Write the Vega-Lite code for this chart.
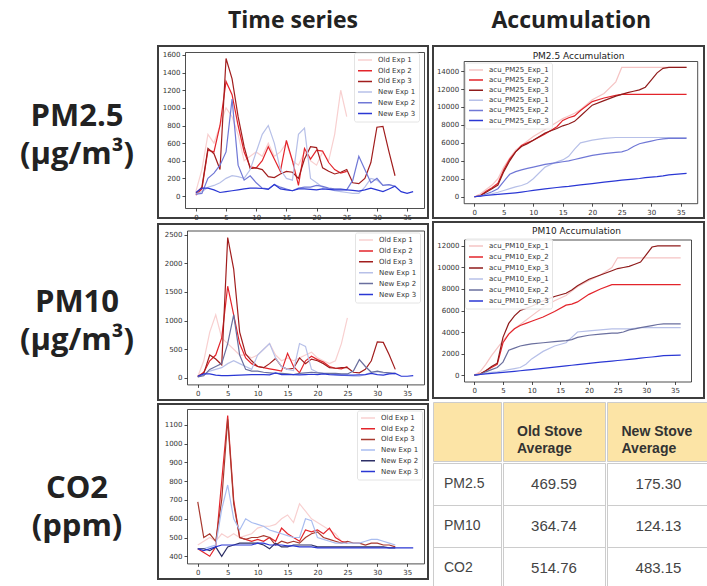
{
"$schema":"https://vega.github.io/schema/vega-lite/v6.json",
"background":"white",
"padding":{"left":0,"top":10,"right":0,"bottom":0},
"config":{
 "font":"DejaVu Sans",
 "view":{"stroke":null},
 "axis":{"grid":false,"labelFont":"DejaVu Sans","labelFontSize":7,"labelColor":"#333","tickColor":"#222","domainColor":"#222","tickSize":3,"tickWidth":0.8,"domainWidth":0.8,"labelPadding":2,"minExtent":0,"labelFlush":false,"labelOverlap":false,"format":"d"},
 "legend":{"title":null,"orient":"none","symbolType":"stroke","symbolSize":196,"symbolStrokeWidth":1.5,"labelFont":"DejaVu Sans","labelFontSize":7,"labelColor":"#333","clipHeight":9,"labelOffset":5,"padding":3,"fillColor":"rgba(255,255,255,0.85)","strokeColor":"#e4e4e4","cornerRadius":2}
},
"datasets":{
 "lab":[{"r":"a","txt":"PM2.5\n(µg/m³)"},{"r":"b","txt":"PM10\n(µg/m³)"},{"r":"c","txt":"CO2\n(ppm)"}],
 "tbl":[{"r":"PM2.5","o":469.59,"n":175.30},{"r":"PM10","o":364.74,"n":124.13},{"r":"CO2","o":514.76,"n":483.15}],
 "ts25":[
{"t":0,"o1":50,"o2":10,"o3":30,"n1":20,"n2":20,"n3":40},
{"t":1,"o1":300,"o2":80,"o3":100,"n1":50,"n2":30,"n3":90},
{"t":2,"o1":700,"o2":520,"o3":540,"n1":100,"n2":200,"n3":90},
{"t":3,"o1":600,"o2":500,"o3":480,"n1":120,"n2":260,"n3":70},
{"t":4,"o1":800,"o2":800,"o3":300,"n1":150,"n2":350,"n3":40},
{"t":5,"o1":1000,"o2":1300,"o3":1560,"n1":200,"n2":500,"n3":50},
{"t":6,"o1":900,"o2":1150,"o3":1330,"n1":230,"n2":1100,"n3":60},
{"t":7,"o1":700,"o2":800,"o3":900,"n1":220,"n2":350,"n3":70},
{"t":8,"o1":400,"o2":500,"o3":560,"n1":200,"n2":180,"n3":80},
{"t":9,"o1":450,"o2":330,"o3":310,"n1":300,"n2":230,"n3":90},
{"t":10,"o1":500,"o2":320,"o3":320,"n1":500,"n2":150,"n3":90},
{"t":11,"o1":450,"o2":400,"o3":300,"n1":700,"n2":90,"n3":85},
{"t":12,"o1":600,"o2":560,"o3":220,"n1":800,"n2":80,"n3":75},
{"t":13,"o1":450,"o2":420,"o3":210,"n1":600,"n2":130,"n3":130},
{"t":14,"o1":500,"o2":280,"o3":250,"n1":300,"n2":100,"n3":80},
{"t":15,"o1":600,"o2":630,"o3":280,"n1":200,"n2":80,"n3":70},
{"t":16,"o1":400,"o2":400,"o3":270,"n1":180,"n2":60,"n3":60},
{"t":17,"o1":350,"o2":120,"o3":200,"n1":700,"n2":90,"n3":80},
{"t":18,"o1":500,"o2":540,"o3":420,"n1":770,"n2":100,"n3":80},
{"t":19,"o1":400,"o2":420,"o3":560,"n1":200,"n2":100,"n3":75},
{"t":20,"o1":350,"o2":520,"o3":550,"n1":150,"n2":120,"n3":70},
{"t":21,"o1":500,"o2":510,"o3":320,"n1":100,"n2":110,"n3":80},
{"t":22,"o1":400,"o2":380,"o3":280,"n1":80,"n2":90,"n3":75},
{"t":23,"o1":700,"o2":300,"o3":250,"n1":60,"n2":80,"n3":70},
{"t":24,"o1":1200,"o2":260,"o3":270,"n1":50,"n2":80,"n3":70},
{"t":25,"o1":900,"o2":280,"o3":300,"n1":40,"n2":70,"n3":70},
{"t":26,"o1":null,"o2":null,"o3":150,"n1":30,"n2":180,"n3":65},
{"t":27,"o1":null,"o2":null,"o3":140,"n1":30,"n2":450,"n3":55},
{"t":28,"o1":null,"o2":null,"o3":200,"n1":100,"n2":300,"n3":70},
{"t":29,"o1":null,"o2":null,"o3":380,"n1":200,"n2":150,"n3":90},
{"t":30,"o1":null,"o2":null,"o3":780,"n1":180,"n2":200,"n3":70},
{"t":31,"o1":null,"o2":null,"o3":790,"n1":120,"n2":120,"n3":50},
{"t":32,"o1":null,"o2":null,"o3":500,"n1":130,"n2":130,"n3":80},
{"t":33,"o1":null,"o2":null,"o3":230,"n1":110,"n2":110,"n3":110},
{"t":34,"o1":null,"o2":null,"o3":null,"n1":null,"n2":null,"n3":50},
{"t":35,"o1":null,"o2":null,"o3":null,"n1":null,"n2":null,"n3":30},
{"t":36,"o1":null,"o2":null,"o3":null,"n1":null,"n2":null,"n3":50}
 ],
 "ts10":[
{"t":0,"o1":20,"o2":20,"o3":30,"n1":20,"n2":20,"n3":30},
{"t":1,"o1":300,"o2":100,"o3":80,"n1":60,"n2":40,"n3":70},
{"t":2,"o1":800,"o2":300,"o3":400,"n1":120,"n2":150,"n3":70},
{"t":3,"o1":1100,"o2":400,"o3":330,"n1":150,"n2":200,"n3":50},
{"t":4,"o1":700,"o2":700,"o3":230,"n1":180,"n2":250,"n3":40},
{"t":5,"o1":600,"o2":1600,"o3":2450,"n1":250,"n2":600,"n3":40},
{"t":6,"o1":500,"o2":1100,"o3":1900,"n1":300,"n2":1100,"n3":45},
{"t":7,"o1":400,"o2":600,"o3":800,"n1":250,"n2":400,"n3":50},
{"t":8,"o1":400,"o2":350,"o3":420,"n1":200,"n2":150,"n3":55},
{"t":9,"o1":350,"o2":250,"o3":300,"n1":150,"n2":120,"n3":60},
{"t":10,"o1":400,"o2":200,"o3":200,"n1":400,"n2":120,"n3":60},
{"t":11,"o1":500,"o2":180,"o3":180,"n1":500,"n2":100,"n3":60},
{"t":12,"o1":600,"o2":160,"o3":250,"n1":600,"n2":90,"n3":55},
{"t":13,"o1":400,"o2":140,"o3":340,"n1":350,"n2":80,"n3":90},
{"t":14,"o1":300,"o2":120,"o3":200,"n1":200,"n2":80,"n3":60},
{"t":15,"o1":350,"o2":430,"o3":150,"n1":150,"n2":70,"n3":60},
{"t":16,"o1":300,"o2":200,"o3":170,"n1":130,"n2":60,"n3":60},
{"t":17,"o1":350,"o2":90,"o3":350,"n1":600,"n2":80,"n3":55},
{"t":18,"o1":400,"o2":300,"o3":250,"n1":550,"n2":90,"n3":60},
{"t":19,"o1":450,"o2":380,"o3":330,"n1":150,"n2":100,"n3":65},
{"t":20,"o1":350,"o2":320,"o3":300,"n1":100,"n2":90,"n3":60},
{"t":21,"o1":300,"o2":280,"o3":250,"n1":80,"n2":80,"n3":70},
{"t":22,"o1":250,"o2":200,"o3":180,"n1":70,"n2":80,"n3":60},
{"t":23,"o1":300,"o2":170,"o3":170,"n1":60,"n2":80,"n3":55},
{"t":24,"o1":600,"o2":160,"o3":180,"n1":50,"n2":70,"n3":50},
{"t":25,"o1":1050,"o2":200,"o3":180,"n1":40,"n2":70,"n3":50},
{"t":26,"o1":null,"o2":null,"o3":100,"n1":30,"n2":120,"n3":50},
{"t":27,"o1":null,"o2":null,"o3":90,"n1":30,"n2":320,"n3":55},
{"t":28,"o1":null,"o2":null,"o3":150,"n1":60,"n2":200,"n3":60},
{"t":29,"o1":null,"o2":null,"o3":300,"n1":100,"n2":100,"n3":80},
{"t":30,"o1":null,"o2":null,"o3":630,"n1":110,"n2":120,"n3":60},
{"t":31,"o1":null,"o2":null,"o3":620,"n1":90,"n2":100,"n3":50},
{"t":32,"o1":null,"o2":null,"o3":400,"n1":80,"n2":90,"n3":70},
{"t":33,"o1":null,"o2":null,"o3":150,"n1":70,"n2":80,"n3":80},
{"t":34,"o1":null,"o2":null,"o3":null,"n1":null,"n2":null,"n3":30},
{"t":35,"o1":null,"o2":null,"o3":null,"n1":null,"n2":null,"n3":30},
{"t":36,"o1":null,"o2":null,"o3":null,"n1":null,"n2":null,"n3":40}
 ],
 "co2":[
{"t":0,"o1":460,"o2":440,"o3":690,"n1":440,"n2":440,"n3":440},
{"t":1,"o1":480,"o2":420,"o3":500,"n1":440,"n2":440,"n3":430},
{"t":2,"o1":500,"o2":400,"o3":520,"n1":450,"n2":430,"n3":440},
{"t":3,"o1":480,"o2":450,"o3":480,"n1":460,"n2":450,"n3":450},
{"t":4,"o1":520,"o2":800,"o3":700,"n1":650,"n2":400,"n3":460},
{"t":5,"o1":500,"o2":1150,"o3":1130,"n1":780,"n2":450,"n3":460},
{"t":6,"o1":520,"o2":700,"o3":680,"n1":600,"n2":460,"n3":460},
{"t":7,"o1":500,"o2":500,"o3":500,"n1":540,"n2":470,"n3":460},
{"t":8,"o1":510,"o2":490,"o3":490,"n1":600,"n2":470,"n3":460},
{"t":9,"o1":520,"o2":480,"o3":500,"n1":580,"n2":470,"n3":460},
{"t":10,"o1":550,"o2":490,"o3":500,"n1":570,"n2":470,"n3":470},
{"t":11,"o1":560,"o2":480,"o3":510,"n1":560,"n2":460,"n3":470},
{"t":12,"o1":560,"o2":500,"o3":500,"n1":540,"n2":440,"n3":460},
{"t":13,"o1":570,"o2":480,"o3":460,"n1":530,"n2":470,"n3":460},
{"t":14,"o1":600,"o2":550,"o3":480,"n1":520,"n2":450,"n3":460},
{"t":15,"o1":620,"o2":520,"o3":470,"n1":510,"n2":450,"n3":455},
{"t":16,"o1":580,"o2":500,"o3":480,"n1":500,"n2":460,"n3":455},
{"t":17,"o1":680,"o2":480,"o3":470,"n1":500,"n2":460,"n3":450},
{"t":18,"o1":640,"o2":540,"o3":500,"n1":600,"n2":460,"n3":450},
{"t":19,"o1":600,"o2":530,"o3":520,"n1":590,"n2":460,"n3":450},
{"t":20,"o1":580,"o2":540,"o3":530,"n1":500,"n2":450,"n3":445},
{"t":21,"o1":560,"o2":520,"o3":500,"n1":490,"n2":450,"n3":445},
{"t":22,"o1":540,"o2":550,"o3":490,"n1":480,"n2":450,"n3":445},
{"t":23,"o1":520,"o2":500,"o3":480,"n1":470,"n2":450,"n3":445},
{"t":24,"o1":480,"o2":480,"o3":470,"n1":470,"n2":450,"n3":445},
{"t":25,"o1":470,"o2":470,"o3":480,"n1":470,"n2":450,"n3":445},
{"t":26,"o1":null,"o2":null,"o3":470,"n1":470,"n2":450,"n3":445},
{"t":27,"o1":null,"o2":null,"o3":470,"n1":470,"n2":450,"n3":445},
{"t":28,"o1":null,"o2":null,"o3":460,"n1":480,"n2":450,"n3":445},
{"t":29,"o1":null,"o2":null,"o3":470,"n1":490,"n2":450,"n3":445},
{"t":30,"o1":null,"o2":null,"o3":470,"n1":490,"n2":450,"n3":445},
{"t":31,"o1":null,"o2":null,"o3":460,"n1":480,"n2":450,"n3":445},
{"t":32,"o1":null,"o2":null,"o3":460,"n1":470,"n2":445,"n3":445},
{"t":33,"o1":null,"o2":null,"o3":450,"n1":460,"n2":445,"n3":445},
{"t":34,"o1":null,"o2":null,"o3":null,"n1":null,"n2":null,"n3":445},
{"t":35,"o1":null,"o2":null,"o3":null,"n1":null,"n2":null,"n3":445},
{"t":36,"o1":null,"o2":null,"o3":null,"n1":null,"n2":null,"n3":445}
 ],
 "acc25":[
{"t":0,"o1":0,"o2":0,"o3":0,"n1":0,"n2":0,"n3":0},
{"t":1,"o1":300,"o2":100,"o3":100,"n1":80,"n2":60,"n3":70},
{"t":2,"o1":800,"o2":600,"o3":500,"n1":200,"n2":300,"n3":140},
{"t":3,"o1":1300,"o2":1000,"o3":900,"n1":320,"n2":550,"n3":210},
{"t":4,"o1":2000,"o2":1500,"o3":1300,"n1":500,"n2":900,"n3":260},
{"t":5,"o1":3300,"o2":3000,"o3":2800,"n1":700,"n2":1700,"n3":310},
{"t":6,"o1":4300,"o2":4200,"o3":4000,"n1":900,"n2":2500,"n3":370},
{"t":7,"o1":5200,"o2":5000,"o3":5000,"n1":1100,"n2":2800,"n3":440},
{"t":8,"o1":5700,"o2":5700,"o3":5600,"n1":1250,"n2":3000,"n3":520},
{"t":9,"o1":6200,"o2":6000,"o3":5900,"n1":1500,"n2":3150,"n3":610},
{"t":10,"o1":6700,"o2":6300,"o3":6300,"n1":2000,"n2":3300,"n3":700},
{"t":12,"o1":7500,"o2":7000,"o3":7100,"n1":3300,"n2":3600,"n3":870},
{"t":14,"o1":8300,"o2":7800,"o3":7600,"n1":3900,"n2":3800,"n3":1030},
{"t":15,"o1":8700,"o2":8500,"o3":7900,"n1":4100,"n2":3900,"n3":1100},
{"t":16,"o1":9000,"o2":8800,"o3":8100,"n1":4500,"n2":4000,"n3":1160},
{"t":17,"o1":9300,"o2":9000,"o3":8400,"n1":5300,"n2":4150,"n3":1240},
{"t":18,"o1":9700,"o2":9600,"o3":9000,"n1":6000,"n2":4300,"n3":1320},
{"t":20,"o1":10800,"o2":10600,"o3":10200,"n1":6300,"n2":4600,"n3":1470},
{"t":22,"o1":11500,"o2":11000,"o3":10700,"n1":6500,"n2":4800,"n3":1620},
{"t":24,"o1":12800,"o2":11300,"o3":11200,"n1":6600,"n2":4950,"n3":1770},
{"t":25,"o1":14400,"o2":11400,"o3":11400,"n1":6600,"n2":5000,"n3":1840},
{"t":26,"o1":14400,"o2":11400,"o3":11600,"n1":6600,"n2":5200,"n3":1900},
{"t":27,"o1":14400,"o2":11400,"o3":11750,"n1":6600,"n2":5600,"n3":1960},
{"t":28,"o1":14400,"o2":11400,"o3":11900,"n1":6600,"n2":5900,"n3":2030},
{"t":29,"o1":14400,"o2":11400,"o3":12200,"n1":6600,"n2":6050,"n3":2120},
{"t":30,"o1":14400,"o2":11400,"o3":13000,"n1":6600,"n2":6200,"n3":2190},
{"t":31,"o1":14400,"o2":11400,"o3":13800,"n1":6600,"n2":6350,"n3":2240},
{"t":32,"o1":14400,"o2":11400,"o3":14300,"n1":6600,"n2":6450,"n3":2320},
{"t":33,"o1":14400,"o2":11400,"o3":14400,"n1":6600,"n2":6500,"n3":2430},
{"t":34,"o1":14400,"o2":11400,"o3":14400,"n1":6600,"n2":6500,"n3":2480},
{"t":36,"o1":14400,"o2":11400,"o3":14400,"n1":6600,"n2":6500,"n3":2600}
 ],
 "acc10":[
{"t":0,"o1":0,"o2":0,"o3":0,"n1":0,"n2":0,"n3":0},
{"t":1,"o1":300,"o2":100,"o3":100,"n1":60,"n2":50,"n3":50},
{"t":2,"o1":1000,"o2":400,"o3":400,"n1":150,"n2":300,"n3":100},
{"t":3,"o1":1800,"o2":700,"o3":800,"n1":250,"n2":500,"n3":150},
{"t":4,"o1":2500,"o2":1000,"o3":1100,"n1":300,"n2":700,"n3":200},
{"t":5,"o1":3200,"o2":3000,"o3":3500,"n1":400,"n2":1200,"n3":250},
{"t":6,"o1":3800,"o2":3800,"o3":4800,"n1":500,"n2":2300,"n3":300},
{"t":7,"o1":4300,"o2":4300,"o3":5500,"n1":600,"n2":2500,"n3":350},
{"t":8,"o1":4700,"o2":4600,"o3":6000,"n1":700,"n2":2700,"n3":400},
{"t":9,"o1":5100,"o2":4800,"o3":6200,"n1":1000,"n2":2800,"n3":450},
{"t":10,"o1":5500,"o2":5000,"o3":6400,"n1":1500,"n2":2900,"n3":500},
{"t":12,"o1":6300,"o2":5400,"o3":6900,"n1":2200,"n2":3000,"n3":620},
{"t":14,"o1":6900,"o2":5900,"o3":7300,"n1":2700,"n2":3100,"n3":740},
{"t":16,"o1":7400,"o2":6500,"o3":7600,"n1":3000,"n2":3200,"n3":860},
{"t":17,"o1":7800,"o2":6600,"o3":7900,"n1":3500,"n2":3300,"n3":910},
{"t":18,"o1":8200,"o2":6800,"o3":8300,"n1":4000,"n2":3500,"n3":970},
{"t":20,"o1":8800,"o2":7500,"o3":8900,"n1":4100,"n2":3700,"n3":1080},
{"t":22,"o1":9300,"o2":8000,"o3":9300,"n1":4200,"n2":3800,"n3":1200},
{"t":24,"o1":10000,"o2":8400,"o3":9700,"n1":4300,"n2":3900,"n3":1300},
{"t":25,"o1":10900,"o2":8400,"o3":9900,"n1":4300,"n2":3900,"n3":1350},
{"t":26,"o1":10900,"o2":8400,"o3":10000,"n1":4300,"n2":4000,"n3":1400},
{"t":27,"o1":10900,"o2":8400,"o3":10100,"n1":4300,"n2":4200,"n3":1460},
{"t":28,"o1":10900,"o2":8400,"o3":10300,"n1":4350,"n2":4300,"n3":1510},
{"t":29,"o1":10900,"o2":8400,"o3":10500,"n1":4400,"n2":4400,"n3":1570},
{"t":30,"o1":10900,"o2":8400,"o3":11200,"n1":4400,"n2":4500,"n3":1630},
{"t":31,"o1":10900,"o2":8400,"o3":11900,"n1":4400,"n2":4600,"n3":1680},
{"t":32,"o1":10900,"o2":8400,"o3":12000,"n1":4400,"n2":4700,"n3":1740},
{"t":33,"o1":10900,"o2":8400,"o3":12000,"n1":4400,"n2":4750,"n3":1800},
{"t":36,"o1":10900,"o2":8400,"o3":12000,"n1":4400,"n2":4750,"n3":1850}
 ]
},
"spacing":3,
"resolve":{"scale":{"x":"independent","y":"independent","color":"independent"},"legend":{"color":"independent"}},
"hconcat":[
 {
  "width":154,"height":530,
  "data":{"name":"lab"},
  "mark":{"type":"text","lineBreak":"\n","font":"Open Sans","fontSize":31,"fontWeight":"bold","color":"#222","lineHeight":38,"align":"center","baseline":"middle"},
  "encoding":{
   "y":{"field":"r","type":"nominal","sort":null,"scale":{"type":"band","domain":["a","b","c"],"range":[-22.5,536],"paddingInner":0,"paddingOuter":0},"axis":null},
   "text":{"field":"txt"}
  }
 },
 {
  "title":{"text":"Time series","anchor":"middle","font":"Open Sans","fontSize":23,"fontWeight":"bold","color":"#222","offset":12},
  "spacing":2,
  "resolve":{"scale":{"x":"independent","y":"independent","color":"independent"},"legend":{"color":"independent"}},
  "vconcat":[
   {
    "width":270,"height":172,
    "view":{"stroke":"#3d3d3d","strokeWidth":2},
    "data":{"name":"ts25"},
    "transform":[{"fold":["o1","o2","o3","n1","n2","n3"],"as":["s","v"]}],
    "layer":[
     {"mark":{"type":"line","strokeWidth":1.2,"invalid":"filter"},
      "encoding":{
       "x":{"field":"t","type":"quantitative","scale":{"domain":[-1.8,37.8],"range":[27,266],"nice":false,"zero":false},"axis":{"title":null,"orient":"bottom","offset":-10,"values":[0,5,10,15,20,25,30,35]}},
       "y":{"field":"v","type":"quantitative","scale":{"domain":[-136,1634],"range":[162,6],"nice":false,"zero":false},"axis":{"title":null,"orient":"left","offset":-27,"values":[0,200,400,600,800,1000,1200,1400,1600]}},
       "color":{"field":"s","type":"nominal","scale":{"domain":["o1","o2","o3","n1","n2","n3"],"range":["#f8d0d0","#e3242b","#a11d1d","#b7c0e8","#7078d6","#2a37d4"]},
        "legend":{"legendX":196,"legendY":6.5,"rowPadding":1.7,"labelExpr":"(slice(datum.label,0,1)=='o' ? 'Old' : 'New') + ' Exp ' + slice(datum.label,1)"}}
      }},
     {"mark":{"type":"line","opacity":0,"invalid":"filter"},
      "encoding":{
       "x":{"field":"t","type":"quantitative","axis":{"title":null,"orient":"top","offset":-6,"labels":false,"ticks":false}},
       "y":{"field":"v","type":"quantitative","axis":{"title":null,"orient":"right","offset":-4,"labels":false,"ticks":false}},
       "detail":{"field":"s"}
      }}
    ],
    "resolve":{"axis":{"x":"independent","y":"independent"}}
   },
   {
    "width":270,"height":176,
    "view":{"stroke":"#3d3d3d","strokeWidth":2},
    "data":{"name":"ts10"},
    "transform":[{"fold":["o1","o2","o3","n1","n2","n3"],"as":["s","v"]}],
    "layer":[
     {"mark":{"type":"line","strokeWidth":1.2,"invalid":"filter"},
      "encoding":{
       "x":{"field":"t","type":"quantitative","scale":{"domain":[-1.8,37.8],"range":[29,266],"nice":false,"zero":false},"axis":{"title":null,"orient":"bottom","offset":-15.6,"values":[0,5,10,15,20,25,30,35]}},
       "y":{"field":"v","type":"quantitative","scale":{"domain":[-112,2572],"range":[160.4,6.5],"nice":false,"zero":false},"axis":{"title":null,"orient":"left","offset":-29,"values":[0,500,1000,1500,2000,2500]}},
       "color":{"field":"s","type":"nominal","scale":{"domain":["o1","o2","o3","n1","n2","n3"],"range":["#f8d0d0","#e3242b","#a11d1d","#b7c0e8","#6a6f9e","#2a37d4"]},
        "legend":{"legendX":197,"legendY":8.5,"rowPadding":1.9,"labelExpr":"(slice(datum.label,0,1)=='o' ? 'Old' : 'New') + ' Exp ' + slice(datum.label,1)"}}
      }},
     {"mark":{"type":"line","opacity":0,"invalid":"filter"},
      "encoding":{
       "x":{"field":"t","type":"quantitative","axis":{"title":null,"orient":"top","offset":-6.5,"labels":false,"ticks":false}},
       "y":{"field":"v","type":"quantitative","axis":{"title":null,"orient":"right","offset":-4,"labels":false,"ticks":false}},
       "detail":{"field":"s"}
      }}
    ],
    "resolve":{"axis":{"x":"independent","y":"independent"}}
   },
   {
    "width":270,"height":175,
    "view":{"stroke":"#3d3d3d","strokeWidth":2},
    "data":{"name":"co2"},
    "transform":[{"fold":["o1","o2","o3","n1","n2","n3"],"as":["s","v"]}],
    "layer":[
     {"mark":{"type":"line","strokeWidth":1.2,"invalid":"filter"},
      "encoding":{
       "x":{"field":"t","type":"quantitative","scale":{"domain":[-1.8,37.8],"range":[29,266],"nice":false,"zero":false},"axis":{"title":null,"orient":"bottom","offset":-15.6,"values":[0,5,10,15,20,25,30,35]}},
       "y":{"field":"v","type":"quantitative","scale":{"domain":[362,1185],"range":[159.4,5],"nice":false,"zero":false},"axis":{"title":null,"orient":"left","offset":-29,"values":[400,500,600,700,800,900,1000,1100]}},
       "color":{"field":"s","type":"nominal","scale":{"domain":["o1","o2","o3","n1","n2","n3"],"range":["#f8d0d0","#e3242b","#a8392f","#a9bdf0","#2d2f66","#2a37d4"]},
        "legend":{"legendX":199,"legendY":6.5,"rowPadding":1.7,"labelExpr":"(slice(datum.label,0,1)=='o' ? 'Old' : 'New') + ' Exp ' + slice(datum.label,1)"}}
      }},
     {"mark":{"type":"line","opacity":0,"invalid":"filter"},
      "encoding":{
       "x":{"field":"t","type":"quantitative","axis":{"title":null,"orient":"top","offset":-5,"labels":false,"ticks":false}},
       "y":{"field":"v","type":"quantitative","axis":{"title":null,"orient":"right","offset":-4,"labels":false,"ticks":false}},
       "detail":{"field":"s"}
      }}
    ],
    "resolve":{"axis":{"x":"independent","y":"independent"}}
   }
  ]
 },
 {
  "title":{"text":"Accumulation","anchor":"middle","font":"Open Sans","fontSize":23,"fontWeight":"bold","color":"#222","offset":12},
  "spacing":2,
  "resolve":{"scale":{"x":"independent","y":"independent","color":"independent"},"legend":{"color":"independent"}},
  "vconcat":[
   {
    "width":271,"height":172,
    "view":{"stroke":"#3d3d3d","strokeWidth":2},
    "title":{"text":"PM2.5 Accumulation","font":"DejaVu Sans","fontSize":9,"fontWeight":"normal","color":"#222","anchor":"middle","frame":"group","baseline":"top","offset":-5,"dx":10,"dy":10},
    "data":{"name":"acc25"},
    "transform":[{"fold":["o1","o2","o3","n1","n2","n3"],"as":["s","v"]}],
    "layer":[
     {"mark":{"type":"line","strokeWidth":1.2,"invalid":"filter"},
      "encoding":{
       "x":{"field":"t","type":"quantitative","scale":{"domain":[-1.8,37.8],"range":[30.7,264.2],"nice":false,"zero":false},"axis":{"title":null,"orient":"bottom","offset":-14.8,"values":[0,5,10,15,20,25,30,35]}},
       "y":{"field":"v","type":"quantitative","scale":{"domain":[-720,15120],"range":[157.2,15],"nice":false,"zero":false},"axis":{"title":null,"orient":"left","offset":-30.7,"values":[0,2000,4000,6000,8000,10000,12000,14000]}},
       "color":{"field":"s","type":"nominal","scale":{"domain":["o1","o2","o3","n1","n2","n3"],"range":["#f5c4c4","#e3242b","#8f1b1b","#b7c0e8","#7078d6","#2a37d4"]},
        "legend":{"legendX":32,"legendY":16.5,"rowPadding":1.1,"labelExpr":"'acu_PM25_Exp_' + slice(datum.label,1)"}}
      }},
     {"mark":{"type":"line","opacity":0,"invalid":"filter"},
      "encoding":{
       "x":{"field":"t","type":"quantitative","axis":{"title":null,"orient":"top","offset":-15,"labels":false,"ticks":false}},
       "y":{"field":"v","type":"quantitative","axis":{"title":null,"orient":"right","offset":-6.8,"labels":false,"ticks":false}},
       "detail":{"field":"s"}
      }}
    ],
    "resolve":{"axis":{"x":"independent","y":"independent"}}
   },
   {
    "width":271,"height":176,
    "view":{"stroke":"#3d3d3d","strokeWidth":2},
    "title":{"text":"PM10 Accumulation","font":"DejaVu Sans","fontSize":9,"fontWeight":"normal","color":"#222","anchor":"middle","frame":"group","baseline":"top","offset":-6,"dx":8,"dy":8},
    "data":{"name":"acc10"},
    "transform":[{"fold":["o1","o2","o3","n1","n2","n3"],"as":["s","v"]}],
    "layer":[
     {"mark":{"type":"line","strokeWidth":1.2,"invalid":"filter"},
      "encoding":{
       "x":{"field":"t","type":"quantitative","scale":{"domain":[-1.8,37.8],"range":[31,258],"nice":false,"zero":false},"axis":{"title":null,"orient":"bottom","offset":-16.5,"values":[0,5,10,15,20,25,30,35]}},
       "y":{"field":"v","type":"quantitative","scale":{"domain":[-600,12600],"range":[159.5,17.5],"nice":false,"zero":false},"axis":{"title":null,"orient":"left","offset":-31,"values":[0,2000,4000,6000,8000,10000,12000]}},
       "color":{"field":"s","type":"nominal","scale":{"domain":["o1","o2","o3","n1","n2","n3"],"range":["#f5c4c4","#e3242b","#8f1b1b","#b7c0e8","#6a6f9e","#2a37d4"]},
        "legend":{"legendX":32,"legendY":16.5,"rowPadding":2,"labelExpr":"'acu_PM10_Exp_' + slice(datum.label,1)"}}
      }},
     {"mark":{"type":"line","opacity":0,"invalid":"filter"},
      "encoding":{
       "x":{"field":"t","type":"quantitative","axis":{"title":null,"orient":"top","offset":-17.5,"labels":false,"ticks":false}},
       "y":{"field":"v","type":"quantitative","axis":{"title":null,"orient":"right","offset":-13,"labels":false,"ticks":false}},
       "detail":{"field":"s"}
      }}
    ],
    "resolve":{"axis":{"x":"independent","y":"independent"}}
   },
   {
    "spacing":0,
    "resolve":{"scale":{"x":"independent","y":"independent"}},
    "hconcat":[
     {"spacing":0,"vconcat":[
       {"width":68,"height":59,"view":{"fill":"#FCE4A6","stroke":"#cccccc","strokeWidth":1},
        "data":{"values":[{"h":""}]},
        "mark":{"type":"text"},
        "encoding":{"text":{"field":"h"}}},
       {"width":68,"height":126,"view":{"stroke":"#cccccc","strokeWidth":1},
        "data":{"name":"tbl"},
        "mark":{"type":"text","font":"Liberation Sans","fontSize":14,"color":"#444","align":"left","dx":-23,"baseline":"middle"},
        "encoding":{
         "y":{"field":"r","type":"nominal","sort":null,"scale":{"type":"band","domain":["PM2.5","PM10","CO2"],"paddingInner":0,"paddingOuter":0},"axis":{"title":null,"labels":false,"ticks":false,"domain":false,"grid":true,"gridColor":"#cccccc","gridWidth":1,"bandPosition":0}},
         "text":{"field":"r"}}}
     ]},
     {"spacing":0,"vconcat":[
       {"width":102,"height":59,"view":{"fill":"#FCE4A6","stroke":"#cccccc","strokeWidth":1},
        "data":{"values":[{"h":"Old Stove\nAverage"}]},
        "mark":{"type":"text","lineBreak":"\n","font":"Liberation Sans","fontSize":14,"fontWeight":"bold","color":"#333","align":"left","dx":-37,"baseline":"middle","lineHeight":17},
        "encoding":{"text":{"field":"h"}}},
       {"width":102,"height":126,"view":{"stroke":"#cccccc","strokeWidth":1},
        "data":{"name":"tbl"},
        "mark":{"type":"text","font":"Liberation Sans","fontSize":15,"color":"#444","align":"center","baseline":"middle"},
        "encoding":{
         "y":{"field":"r","type":"nominal","sort":null,"scale":{"type":"band","domain":["PM2.5","PM10","CO2"],"paddingInner":0,"paddingOuter":0},"axis":{"title":null,"labels":false,"ticks":false,"domain":false,"grid":true,"gridColor":"#cccccc","gridWidth":1,"bandPosition":0}},
         "text":{"field":"o","type":"quantitative","format":".2f"}}}
     ]},
     {"spacing":0,"vconcat":[
       {"width":103,"height":59,"view":{"fill":"#FCE4A6","stroke":"#cccccc","strokeWidth":1},
        "data":{"values":[{"h":"New Stove\nAverage"}]},
        "mark":{"type":"text","lineBreak":"\n","font":"Liberation Sans","fontSize":14,"fontWeight":"bold","color":"#333","align":"left","dx":-37,"baseline":"middle","lineHeight":17},
        "encoding":{"text":{"field":"h"}}},
       {"width":103,"height":126,"view":{"stroke":"#cccccc","strokeWidth":1},
        "data":{"name":"tbl"},
        "mark":{"type":"text","font":"Liberation Sans","fontSize":15,"color":"#444","align":"center","baseline":"middle"},
        "encoding":{
         "y":{"field":"r","type":"nominal","sort":null,"scale":{"type":"band","domain":["PM2.5","PM10","CO2"],"paddingInner":0,"paddingOuter":0},"axis":{"title":null,"labels":false,"ticks":false,"domain":false,"grid":true,"gridColor":"#cccccc","gridWidth":1,"bandPosition":0}},
         "text":{"field":"n","type":"quantitative","format":".2f"}}}
     ]}
    ]
   }
  ]
 }
]
}
